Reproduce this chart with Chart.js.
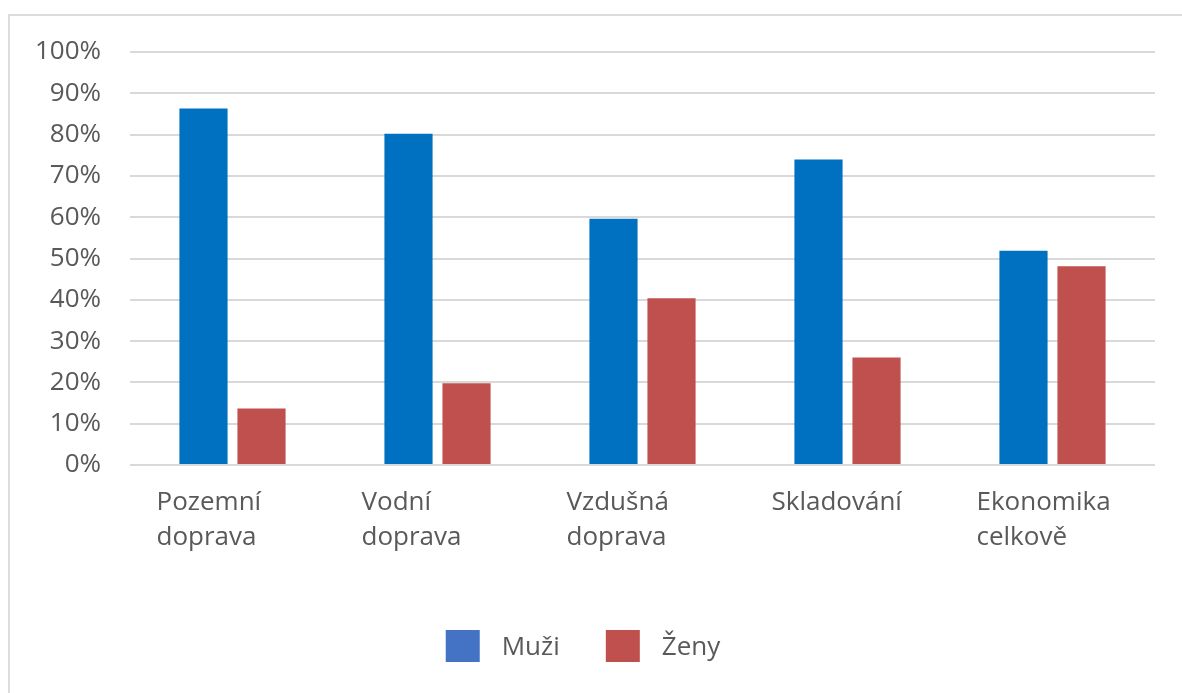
<!DOCTYPE html>
<html><head><meta charset="utf-8">
<script src="https://cdn.jsdelivr.net/npm/chart.js@4/dist/chart.umd.min.js"></script>
<style>
html,body{margin:0;padding:0;background:#fff;overflow:hidden;width:1182px;height:693px;}
#frame{position:absolute;left:8px;top:14px;width:1300px;height:800px;border-left:2px solid #dcdcdc;border-top:2px solid #dcdcdc;}
#wrap{position:absolute;left:0;top:0;width:1182px;height:693px;}
</style></head>
<body>
<div id="frame"></div>
<div id="wrap"><canvas id="c"></canvas></div>
<script>
const categories = [['Pozemní','doprava'],['Vodní','doprava'],['Vzdušná','doprava'],['Skladování'],['Ekonomika','celkově']];
const seriesNames = ['Muži','Ženy'];
const muzi = [86.3, 80.2, 59.6, 74.0, 51.9];
const zeny = [13.7, 19.8, 40.4, 26.0, 48.1];
const barColors = ['#0070C0','#C0504D'];
const legendColors = ['#4472C4','#C0504D'];
const yMin = 0, yMax = 100, yStep = 10;

const TEXT = '#595959';
const FONTFAM = '"Open Sans", "DejaVu Sans", sans-serif';

const customDraw = {
  id: 'customDraw',
  afterDraw(chart) {
    const ctx = chart.ctx, xs = chart.scales.x, area = chart.chartArea;
    ctx.save();
    ctx.font = '26px ' + FONTFAM;
    ctx.fillStyle = TEXT;
    ctx.textAlign = 'left';
    ctx.textBaseline = 'alphabetic';
    categories.forEach((lines, i) => {
      const lx = xs.getPixelForValue(i) - 76;
      lines.forEach((t, j) => ctx.fillText(t, lx, area.bottom + 45 + j * 35));
    });
    // legend
    const boxW = 34, boxH = 32, gap = 22, spacing = 46;
    const widths = seriesNames.map(n => ctx.measureText(n).width);
    let total = 0;
    widths.forEach((w, i) => { total += boxW + gap + w + (i < widths.length - 1 ? spacing : 0); });
    let x = chart.width / 2 - total / 2 - 8;
    const boxTop = area.bottom + 165;
    seriesNames.forEach((n, i) => {
      ctx.fillStyle = legendColors[i];
      ctx.fillRect(x, boxTop, boxW, boxH);
      ctx.fillStyle = TEXT;
      ctx.fillText(n, x + boxW + gap, boxTop + 25);
      x += boxW + gap + widths[i] + spacing;
    });
    ctx.restore();
  }
};

new Chart(document.getElementById('c'), {
  type: 'bar',
  data: {
    labels: categories,
    datasets: [
      { label: seriesNames[0], data: muzi, backgroundColor: barColors[0], categoryPercentage: 0.566, barPercentage: 0.83 },
      { label: seriesNames[1], data: zeny, backgroundColor: barColors[1], categoryPercentage: 0.566, barPercentage: 0.83 }
    ]
  },
  options: {
    responsive: true,
    maintainAspectRatio: false,
    animation: false,
    layout: { padding: { top: 52, right: 27, bottom: 0, left: 0 } },
    plugins: { legend: { display: false }, tooltip: { enabled: false } },
    scales: {
      x: {
        grid: { display: false },
        border: { display: false },
        ticks: { display: false },
        afterFit: s => { s.height = 228; }
      },
      y: {
        min: yMin, max: yMax,
        border: { display: false },
        grid: { color: '#d9d9d9', lineWidth: 2, drawTicks: false },
        ticks: {
          stepSize: yStep,
          padding: 29,
          color: TEXT,
          font: { family: FONTFAM, size: 26 },
          callback: v => v + '%'
        },
        afterFit: s => { s.width = 130; }
      }
    }
  },
  plugins: [customDraw]
});
</script>
</body></html>
